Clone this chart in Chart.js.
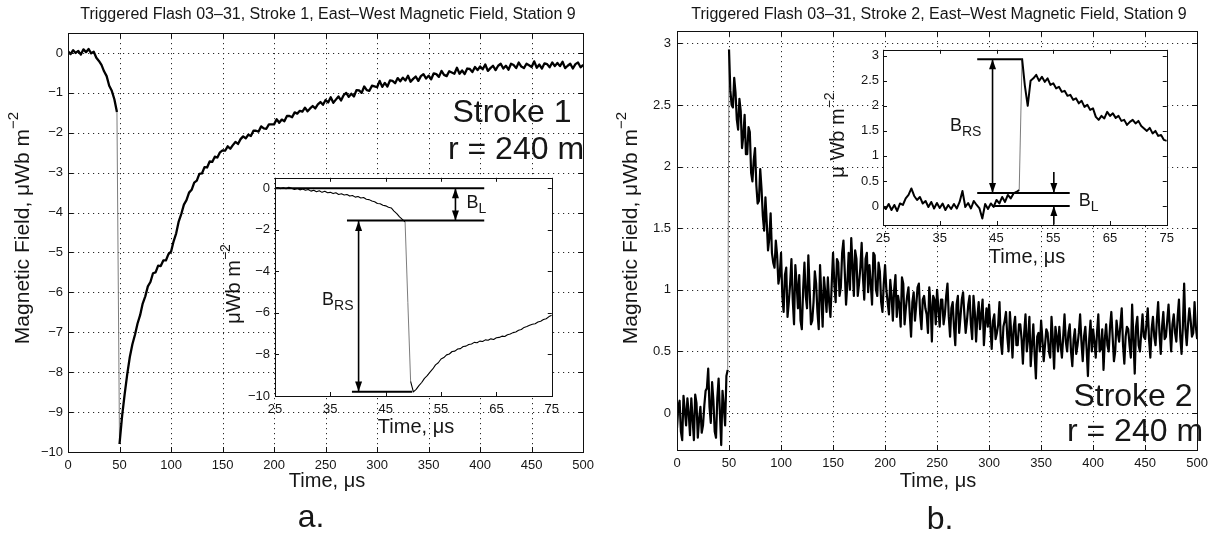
<!DOCTYPE html>
<html>
<head>
<meta charset="utf-8">
<script src="https://cdn.jsdelivr.net/npm/chart.js@4.4.0/dist/chart.umd.min.js"></script>
<style>
  html, body { margin: 0; padding: 0; background: #fff; }
  #page { position: relative; width: 1214px; height: 533px; overflow: hidden; background: #fff; }
  .box { position: absolute; }
</style>
</head>
<body>
<div id="page">
  <div class="box" style="left:0;top:0;width:600px;height:533px"><canvas id="mainA"></canvas></div>
  <div class="box" style="left:600px;top:0;width:614px;height:533px"><canvas id="mainB"></canvas></div>
  <div class="box" style="left:215px;top:165px;width:350px;height:285px"><canvas id="insetA"></canvas></div>
  <div class="box" style="left:820px;top:38px;width:360px;height:235px"><canvas id="insetB"></canvas></div>
</div>
<script>
// sampling of the traces
const mainStep = 2.5;   // µs between samples, main plots (0..500)
const zoomStart = 25;   // µs, first sample of the insets
const zoomStep = 0.5;   // µs between samples, insets (25..75)

// Stroke 1, east-west magnetic field, µWb m^-2
const stroke1Field = [
  0.04, -0.03, 0.07, 0.0, 0.05, -0.04, 0.09, 0.02, 0.1, -0.01,
  0.03, -0.12, -0.2, -0.3, -0.46, -0.58, -0.82, -0.95, -1.16, -1.48,
  -9.8, -9.1, -8.55, -8.05, -7.62, -7.3, -7.06, -6.78, -6.57, -6.28,
  -6.1, -5.85, -5.74, -5.52, -5.5, -5.33, -5.34, -5.2, -5.2, -5.04,
  -4.98, -4.72, -4.52, -4.22, -4.03, -3.8, -3.69, -3.5, -3.43, -3.25,
  -3.2, -3.03, -3.02, -2.86, -2.87, -2.72, -2.73, -2.6, -2.62, -2.49,
  -2.44, -2.45, -2.34, -2.4, -2.31, -2.23, -2.28, -2.16, -2.09, -2.14,
  -2.05, -2.08, -1.95, -1.95, -1.97, -1.84, -1.89, -1.9, -1.79, -1.79,
  -1.79, -1.66, -1.75, -1.67, -1.71, -1.58, -1.58, -1.61, -1.49, -1.52,
  -1.45, -1.47, -1.37, -1.46, -1.39, -1.33, -1.39, -1.29, -1.23, -1.3,
  -1.18, -1.24, -1.11, -1.25, -1.17, -1.09, -1.19, -1.06, -1.0, -1.1,
  -1.02, -1.09, -0.93, -0.94, -1.0, -0.84, -0.93, -0.95, -0.82, -0.84,
  -0.86, -0.7, -0.85, -0.75, -0.84, -0.69, -0.7, -0.76, -0.63, -0.71,
  -0.62, -0.69, -0.57, -0.72, -0.65, -0.59, -0.7, -0.58, -0.53, -0.64,
  -0.57, -0.66, -0.51, -0.53, -0.6, -0.45, -0.55, -0.58, -0.46, -0.49,
  -0.52, -0.37, -0.52, -0.44, -0.53, -0.39, -0.4, -0.48, -0.35, -0.43,
  -0.34, -0.41, -0.29, -0.45, -0.38, -0.32, -0.43, -0.32, -0.27, -0.39,
  -0.32, -0.42, -0.27, -0.3, -0.38, -0.24, -0.34, -0.38, -0.27, -0.31,
  -0.35, -0.21, -0.37, -0.29, -0.39, -0.26, -0.28, -0.36, -0.24, -0.33,
  -0.25, -0.33, -0.22, -0.38, -0.32, -0.27, -0.39, -0.28, -0.24, -0.36,
  -0.3
];

// Stroke 2, east-west magnetic field, µWb m^-2, samples at 0, 2.5, 5 ... µs
const stroke2Field = [
  -0.12, 0.1, -0.22, 0.02, 0.12, -0.18, -0.05, 0.15, -0.2, 0.05,
  -0.1, 0.18, 0.36, -0.08, 0.1, -0.2, 0.28, -0.26, 0.05, 0.3,
  2.95, 2.5, 2.72, 2.38, 2.55, 2.15, 2.42, 2.1, 2.28, 1.88,
  2.15, 1.7, 1.98, 1.6, 1.75, 1.32, 1.62, 1.22, 1.4, 1.05,
  1.3, 0.82, 1.18, 0.9, 1.25, 0.72, 1.05, 1.12, 0.68, 1.22,
  0.85, 1.0, 0.75, 1.15, 0.82, 1.2, 0.7, 0.98, 1.1, 0.78,
  1.3, 0.9, 1.22, 1.02, 1.4, 0.88, 1.3, 1.42, 0.95, 1.25,
  1.05, 1.38, 0.92, 1.3, 1.2, 0.88, 1.28, 0.95, 1.15, 0.82,
  1.2, 0.9, 1.08, 0.75, 1.12, 0.95, 0.7, 1.05, 0.85, 1.02,
  0.62, 0.98, 0.88, 1.05, 0.68, 0.95, 0.8, 1.02, 0.58, 0.92,
  1.0, 0.7, 0.92, 0.8, 1.05, 0.62, 0.9, 0.55, 0.95, 0.78,
  0.98, 0.65, 0.88, 0.72, 0.95, 0.58, 0.9, 0.8, 0.55, 0.85,
  0.88, 0.52, 0.8, 0.65, 0.9, 0.48, 0.75, 0.62, 0.82, 0.45,
  0.78, 0.55, 0.72, 0.4, 0.8, 0.6, 0.38, 0.72, 0.28, 0.65,
  0.75, 0.42, 0.68, 0.5, 0.78, 0.36, 0.62, 0.7, 0.45, 0.8,
  0.5, 0.72, 0.38, 0.68, 0.55, 0.8, 0.42, 0.7, 0.3, 0.75,
  0.68, 0.45, 0.8, 0.52, 0.35, 0.72, 0.5, 0.82, 0.42, 0.75,
  0.58, 0.85, 0.4, 0.7, 0.55, 0.88, 0.32, 0.78, 0.5, 0.8,
  0.6, 0.85, 0.45, 0.78, 0.55, 0.9, 0.48, 0.82, 0.62, 0.88,
  0.5, 0.8, 0.58, 0.92, 0.48, 1.05, 0.55, 0.85, 0.62, 0.9,
  0.6
];
// Stroke 2, in-between samples at 1.25, 3.75, 6.25 ... µs
const stroke2FieldMid = [
  0.05, -0.15, 0.14, -0.1, 0.0, 0.12, -0.22, 0.08, -0.05, -0.16,
  0.06, 0.2, 0.05, 0.25, -0.15, 0.12, 0.0, 0.18, -0.1, 0.35,
  2.62, 2.48, 2.6, 2.3, 2.45, 2.25, 2.1, 2.32, 1.95, 2.05,
  1.85, 1.72, 1.82, 1.48, 1.55, 1.42, 1.3, 1.18, 1.28, 1.12,
  0.95, 1.12, 0.78, 1.05, 0.92, 1.2, 0.85, 0.75, 1.0, 0.95,
  1.28, 0.72, 0.9, 1.05, 0.68, 0.95, 1.1, 0.82, 0.9, 1.05,
  1.05, 1.25, 0.95, 1.3, 1.15, 1.05, 1.0, 1.2, 1.32, 0.95,
  1.18, 1.1, 1.25, 0.98, 1.05, 1.3, 1.0, 1.22, 0.9, 1.05,
  1.0, 0.8, 0.95, 1.0, 0.78, 0.88, 1.1, 0.72, 0.95, 0.8,
  0.9, 0.75, 1.02, 0.8, 0.92, 0.85, 0.65, 0.88, 0.95, 0.72,
  0.85, 0.92, 0.72, 0.95, 0.78, 0.85, 0.7, 0.88, 0.65, 0.92,
  0.8, 0.75, 0.95, 0.6, 0.82, 0.78, 0.68, 0.92, 0.72, 0.7,
  0.7, 0.75, 0.6, 0.72, 0.58, 0.7, 0.82, 0.5, 0.65, 0.7,
  0.55, 0.72, 0.6, 0.65, 0.5, 0.78, 0.55, 0.48, 0.62, 0.5,
  0.6, 0.55, 0.65, 0.45, 0.6, 0.7, 0.5, 0.55, 0.62, 0.58,
  0.65, 0.5, 0.6, 0.48, 0.65, 0.58, 0.62, 0.52, 0.6, 0.5,
  0.58, 0.65, 0.5, 0.68, 0.6, 0.55, 0.7, 0.62, 0.5, 0.65,
  0.72, 0.55, 0.62, 0.68, 0.45, 0.6, 0.7, 0.55, 0.65, 0.62,
  0.72, 0.6, 0.68, 0.62, 0.75, 0.65, 0.7, 0.6, 0.75, 0.68,
  0.72, 0.65, 0.78, 0.62, 0.7, 0.68, 0.72, 0.75, 0.65, 0.7
];

// insets, 25..75 µs
const stroke1Zoom = [
  0.0, 0.03, -0.02, 0.02, -0.03, 0.04, 0.0, -0.06, -0.02, -0.08,
  -0.04, -0.1, -0.06, -0.14, -0.1, -0.17, -0.12, -0.2, -0.15, -0.22,
  -0.2, -0.26, -0.22, -0.3, -0.27, -0.33, -0.3, -0.38, -0.35, -0.43,
  -0.4, -0.47, -0.45, -0.53, -0.55, -0.62, -0.65, -0.74, -0.75, -0.82,
  -0.85, -0.92, -0.95, -1.1, -1.22, -1.38, -1.5, -1.62, -5.5, -9.3,
  -9.8, -9.68, -9.5, -9.35, -9.15, -9.02, -8.85, -8.7, -8.5, -8.4,
  -8.22, -8.15, -8.02, -7.98, -7.86, -7.84, -7.74, -7.72, -7.62, -7.6,
  -7.52, -7.5, -7.42, -7.44, -7.36, -7.38, -7.3, -7.32, -7.25, -7.28,
  -7.2, -7.18, -7.12, -7.14, -7.05, -7.02, -6.95, -6.92, -6.84, -6.8,
  -6.7, -6.66, -6.6, -6.55, -6.52, -6.44, -6.4, -6.32, -6.28, -6.18,
  -6.12
];
const stroke2Zoom = [
  0.0, -0.06, 0.04, -0.08, 0.02, -0.1, 0.05, 0.02, 0.15, 0.22,
  0.35, 0.2, 0.12, 0.18, 0.05, 0.1, -0.02, 0.08, -0.05, 0.06,
  -0.04, 0.05, -0.08, 0.02, -0.06, 0.04, -0.05, 0.08, 0.3, -0.02,
  0.06, -0.05, 0.1, 0.02, -0.05, -0.25, 0.04, -0.06, 0.05, -0.02,
  0.12, 0.05, 0.18, 0.08, 0.22, 0.15, 0.25, 0.28, 0.32, 2.95,
  2.4, 2.0, 2.5, 2.55, 2.62, 2.5, 2.58, 2.48, 2.55, 2.42,
  2.45, 2.35, 2.38, 2.28, 2.3, 2.2, 2.22, 2.12, 2.15, 2.05,
  2.1, 1.98, 2.02, 1.92, 1.95, 1.78, 1.72, 1.8, 1.75, 1.88,
  1.8, 1.85, 1.76, 1.8, 1.7, 1.72, 1.62, 1.68, 1.72, 1.65,
  1.7, 1.6, 1.55, 1.5, 1.56, 1.45, 1.5, 1.4, 1.42, 1.32,
  1.3
];

// tick values
const mainTimeTicks = [0, 50, 100, 150, 200, 250, 300, 350, 400, 450, 500];
const stroke1Ticks = [0, -1, -2, -3, -4, -5, -6, -7, -8, -9, -10];
const stroke2Ticks = [0, 0.5, 1, 1.5, 2, 2.5, 3];
const zoomTimeTicks = [25, 35, 45, 55, 65, 75];
const zoom1Ticks = [0, -2, -4, -6, -8, -10];
const zoom2Ticks = [0, 0.5, 1, 1.5, 2, 2.5, 3];

// B_L / B_RS construction lines in the insets: [t0, t1, level]
const zoom1Levels = [[25, 62.8, 0], [38, 62.8, -1.55], [38.9, 49.8, -9.8]];
const zoom1DoubleArrows = [[40.1, -1.58, -9.78], [57.6, 0, -1.55]];
const zoom2Levels = [[41.6, 49.4, 2.93], [41.6, 57.9, 0.26], [44.2, 57.9, 0]];
const zoom2DoubleArrows = [[44.3, 2.93, 0.26]];
const zoom2Arrows = [[55.1, 0.68, 0.26], [55.1, -0.37, 0]];

const FONT = '"Liberation Sans", Arial, Helvetica, sans-serif';
const INK = '#161616';

function fmt(v) {
  return v < 0 ? '\u2212' + Math.abs(v) : String(v);
}

// draws text made of parts (normal / super / subscript)
function drawRich(ctx, x, y, parts, align, rotate) {
  ctx.save();
  ctx.translate(x, y);
  if (rotate) ctx.rotate(rotate);
  ctx.textBaseline = 'middle';
  ctx.fillStyle = INK;
  let total = 0;
  parts.forEach(p => {
    ctx.font = p.s + 'px ' + FONT;
    p.w = ctx.measureText(p.t).width;
    total += p.w;
  });
  let cx = align === 'left' ? 0 : align === 'right' ? -total : -total / 2;
  parts.forEach(p => {
    ctx.font = p.s + 'px ' + FONT;
    ctx.fillText(p.t, cx, p.dy || 0);
    cx += p.w;
  });
  ctx.restore();
}

function arrowHead(ctx, x, yFrom, yTo) {
  const dir = Math.sign(yTo - yFrom);
  ctx.beginPath();
  ctx.moveTo(x, yTo);
  ctx.lineTo(x - 3.5, yTo - dir * 10);
  ctx.lineTo(x + 3.5, yTo - dir * 10);
  ctx.closePath();
  ctx.fill();
}

const framePlugin = {
  id: 'frame',
  beforeDraw(chart, args, opts) {
    if (!opts.fill) return;
    const {ctx, chartArea: a} = chart;
    ctx.save();
    ctx.fillStyle = '#fff';
    ctx.fillRect(a.left, a.top, a.right - a.left, a.bottom - a.top);
    ctx.restore();
  },
  beforeDatasetsDraw(chart, args, opts) {
    if (!opts.grid) return;
    const {ctx, chartArea: a, scales: {x, y}} = chart;
    ctx.save();
    ctx.strokeStyle = '#2a2a2a';
    ctx.lineWidth = 1;
    ctx.setLineDash([1.2, 3.8]);
    ctx.beginPath();
    x.ticks.forEach(t => {
      const px = Math.round(x.getPixelForValue(t.value)) + 0.5;
      if (px <= a.left + 1 || px >= a.right - 1) return;
      ctx.moveTo(px, a.top); ctx.lineTo(px, a.bottom);
    });
    y.ticks.forEach(t => {
      const py = Math.round(y.getPixelForValue(t.value)) + 0.5;
      if (py <= a.top + 1 || py >= a.bottom - 1) return;
      ctx.moveTo(a.left, py); ctx.lineTo(a.right, py);
    });
    ctx.stroke();
    ctx.restore();
  },
  afterDatasetsDraw(chart, args, opts) {
    const {ctx, chartArea: a, scales: {x, y}} = chart;
    ctx.save();
    // construction lines and arrows
    ctx.strokeStyle = '#000';
    ctx.fillStyle = '#000';
    ctx.lineWidth = 2;
    (opts.levels || []).forEach(([t0, t1, v]) => {
      const py = y.getPixelForValue(v);
      ctx.beginPath();
      ctx.moveTo(x.getPixelForValue(t0), py);
      ctx.lineTo(x.getPixelForValue(t1), py);
      ctx.stroke();
    });
    (opts.doubleArrows || []).forEach(([t, v0, v1]) => {
      const px = x.getPixelForValue(t), p0 = y.getPixelForValue(v0), p1 = y.getPixelForValue(v1);
      ctx.lineWidth = 1.6;
      ctx.beginPath(); ctx.moveTo(px, p0); ctx.lineTo(px, p1); ctx.stroke();
      arrowHead(ctx, px, p1, p0);
      arrowHead(ctx, px, p0, p1);
    });
    (opts.arrows || []).forEach(([t, v0, v1]) => {
      const px = x.getPixelForValue(t), p0 = y.getPixelForValue(v0), p1 = y.getPixelForValue(v1);
      ctx.lineWidth = 1.6;
      ctx.beginPath(); ctx.moveTo(px, p0); ctx.lineTo(px, p1); ctx.stroke();
      arrowHead(ctx, px, p0, p1);
    });
    (opts.symbols || []).forEach(s => {
      drawRich(ctx, x.getPixelForValue(s.t), y.getPixelForValue(s.v),
        [{t: 'B', s: 18}, {t: s.sub, s: 14, dy: 6}], 'left');
    });

    // box and inward tick marks on all four sides
    const tl = opts.tickLen;
    ctx.strokeStyle = '#111';
    ctx.lineWidth = 1;
    ctx.setLineDash([]);
    ctx.strokeRect(Math.round(a.left) + 0.5, Math.round(a.top) + 0.5,
      Math.round(a.right - a.left), Math.round(a.bottom - a.top));
    ctx.beginPath();
    x.ticks.forEach(t => {
      const px = Math.round(x.getPixelForValue(t.value)) + 0.5;
      ctx.moveTo(px, a.bottom); ctx.lineTo(px, a.bottom - tl);
      ctx.moveTo(px, a.top); ctx.lineTo(px, a.top + tl);
    });
    y.ticks.forEach(t => {
      const py = Math.round(y.getPixelForValue(t.value)) + 0.5;
      ctx.moveTo(a.left, py); ctx.lineTo(a.left + tl, py);
      ctx.moveTo(a.right, py); ctx.lineTo(a.right - tl, py);
    });
    ctx.stroke();
    ctx.restore();
  },
  afterDraw(chart, args, opts) {
    const ctx = chart.ctx;
    (opts.texts || []).forEach(tx => drawRich(ctx, tx.x, tx.y, tx.parts, tx.align, tx.rotate));
  }
};

function series(values, start, step) {
  return values.map((v, i) => ({x: start + i * step, y: v}));
}

function makeChart(id, cfg) {
  const jump = cfg.jump;
  return new Chart(document.getElementById(id), {
    type: 'line',
    data: {
      datasets: [{
        data: cfg.data,
        borderColor: '#000',
        borderWidth: cfg.lineWidth,
        borderJoinStyle: 'round',
        pointRadius: 0,
        tension: 0,
        segment: {
          borderColor: c => Math.abs(c.p1.parsed.y - c.p0.parsed.y) > jump ? '#6d6d6d' : '#000',
          borderWidth: c => Math.abs(c.p1.parsed.y - c.p0.parsed.y) > jump ? 0.9 : cfg.lineWidth
        }
      }]
    },
    options: {
      responsive: true,
      maintainAspectRatio: false,
      animation: false,
      events: [],
      layout: {padding: cfg.padding},
      plugins: {
        legend: {display: false},
        tooltip: {enabled: false},
        frame: cfg.frame
      },
      scales: {
        x: {
          type: 'linear',
          min: cfg.xMin,
          max: cfg.xMax,
          grid: {display: false, drawTicks: false},
          border: {display: false},
          afterBuildTicks: s => { s.ticks = cfg.xTicks.map(v => ({value: v})); },
          afterFit: s => { s.height = cfg.xHeight; },
          ticks: {
            autoSkip: false, maxRotation: 0, padding: cfg.xPad,
            color: INK, font: {family: FONT, size: 13},
            callback: v => fmt(v)
          }
        },
        y: {
          type: 'linear',
          min: cfg.yMin,
          max: cfg.yMax,
          grid: {display: false, drawTicks: false},
          border: {display: false},
          afterBuildTicks: s => { s.ticks = cfg.yTicks.map(v => ({value: v})); },
          afterFit: s => { s.width = cfg.yWidth; },
          ticks: {
            autoSkip: false, padding: cfg.yPad,
            color: INK, font: {family: FONT, size: 13},
            callback: v => fmt(v)
          }
        }
      }
    },
    plugins: [framePlugin]
  });
}

const yTitleMain = [{t: 'Magnetic Field, \u03bcWb m', s: 21}, {t: '\u22122', s: 15, dy: -9}];
const timeLabel = [{t: 'Time, \u03bcs', s: 20}];

makeChart('mainA', {
  data: series(stroke1Field, 0, mainStep), lineWidth: 2.3, jump: 3,
  xMin: 0, xMax: 500, yMin: -10, yMax: 0.5,
  xTicks: mainTimeTicks, yTicks: stroke1Ticks,
  padding: {left: 0, top: 33, right: 14, bottom: 59},
  xHeight: 22, yWidth: 68, xPad: 6, yPad: 5,
  frame: {
    grid: true, tickLen: 5,
    texts: [
      {x: 328, y: 15, parts: [{t: 'Triggered Flash 03\u201331, Stroke 1, East\u2013West Magnetic Field, Station 9', s: 16}]},
      {x: 327, y: 481, parts: timeLabel},
      {x: 23, y: 228, parts: yTitleMain, rotate: -Math.PI / 2},
      {x: 311, y: 518, parts: [{t: 'a.', s: 32}]},
      {x: 512, y: 113, parts: [{t: 'Stroke 1', s: 32}]},
      {x: 516, y: 150, parts: [{t: 'r = 240 m', s: 32}]}
    ]
  }
});

const stroke2Points = series(stroke2Field, 0, mainStep)
  .concat(series(stroke2FieldMid, mainStep / 2, mainStep))
  .sort((p, q) => p.x - q.x);

makeChart('mainB', {
  data: stroke2Points, lineWidth: 2.2, jump: 1.5,
  xMin: 0, xMax: 500, yMin: -0.3, yMax: 3.1,
  xTicks: mainTimeTicks, yTicks: stroke2Ticks,
  padding: {left: 0, top: 31, right: 15, bottom: 61},
  xHeight: 22, yWidth: 77, xPad: 6, yPad: 6,
  frame: {
    grid: true, tickLen: 5,
    texts: [
      {x: 339, y: 15, parts: [{t: 'Triggered Flash 03\u201331, Stroke 2, East\u2013West Magnetic Field, Station 9', s: 16}]},
      {x: 338, y: 481, parts: timeLabel},
      {x: 31, y: 228, parts: yTitleMain, rotate: -Math.PI / 2},
      {x: 340, y: 520, parts: [{t: 'b.', s: 32}]},
      {x: 533, y: 397, parts: [{t: 'Stroke 2', s: 32}]},
      {x: 535, y: 432, parts: [{t: 'r = 240 m', s: 32}]}
    ]
  }
});

makeChart('insetA', {
  data: series(stroke1Zoom, zoomStart, zoomStep), lineWidth: 1.1, jump: 2,
  xMin: 25, xMax: 75, yMin: -10, yMax: 0.5,
  xTicks: zoomTimeTicks, yTicks: zoom1Ticks,
  padding: {left: 0, top: 7, right: 8, bottom: 34},
  xHeight: 20, yWidth: 60, xPad: 6, yPad: 5,
  frame: {
    fill: true, tickLen: 4,
    levels: zoom1Levels,
    doubleArrows: zoom1DoubleArrows,
    symbols: [{t: 59.6, v: -0.72, sub: 'L'}, {t: 33.5, v: -5.4, sub: 'RS'}],
    texts: [
      {x: 201, y: 262, parts: timeLabel},
      {x: 19, y: 119, parts: [{t: '\u03bcWb m', s: 20}, {t: '\u22122', s: 14, dy: -8}], rotate: -Math.PI / 2}
    ]
  }
});

makeChart('insetB', {
  data: series(stroke2Zoom, zoomStart, zoomStep), lineWidth: 2.0, jump: 1.5,
  xMin: 25, xMax: 75, yMin: -0.38, yMax: 3.12,
  xTicks: zoomTimeTicks, yTicks: zoom2Ticks,
  padding: {left: 0, top: 6, right: 10, bottom: 28},
  xHeight: 20, yWidth: 63, xPad: 6, yPad: 4,
  frame: {
    fill: true, tickLen: 4,
    levels: zoom2Levels,
    doubleArrows: zoom2DoubleArrows,
    arrows: zoom2Arrows,
    symbols: [{t: 59.5, v: 0.1, sub: 'L'}, {t: 36.8, v: 1.6, sub: 'RS'}],
    texts: [
      {x: 207, y: 219, parts: timeLabel},
      {x: 18, y: 97, parts: [{t: '\u03bc Wb m', s: 20}, {t: '\u22122', s: 14, dy: -8}], rotate: -Math.PI / 2}
    ]
  }
});
</script>
</body>
</html>
